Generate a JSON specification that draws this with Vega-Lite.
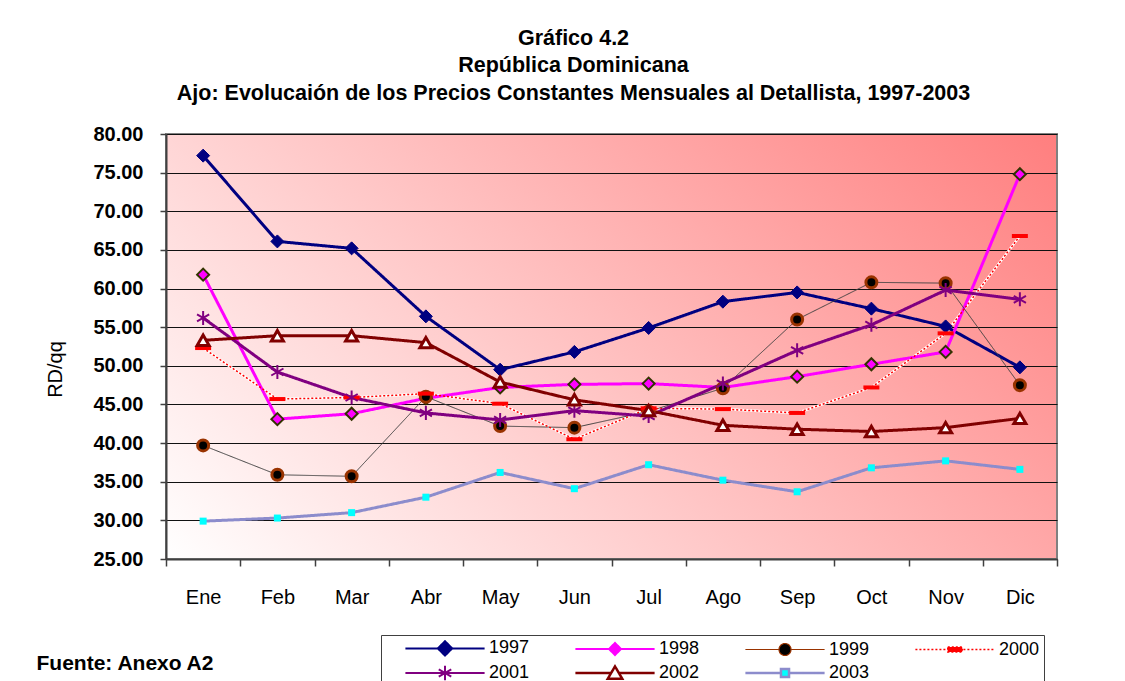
{
  "$schema": "https://vega.github.io/schema/vega-lite/v6.json",
  "autosize": "none",
  "width": 891,
  "height": 425,
  "padding": {"left": 166, "top": 134, "right": 68, "bottom": 122},
  "background": "#ffffff",
  "title": {
    "text": ["Gráfico 4.2", "República Dominicana", "Ajo: Evolucaión de los  Precios Constantes Mensuales al Detallista, 1997-2003"],
    "font": "Liberation Sans",
    "fontSize": 21.5,
    "fontWeight": "bold",
    "lineHeight": 27.5,
    "color": "#000000",
    "anchor": "middle",
    "frame": "group",
    "dx": -38,
    "offset": 20
  },
  "data": {
    "values": [
      {"mes": "Ene", "anio": "1997", "valor": 77.2},
      {"mes": "Feb", "anio": "1997", "valor": 66.1},
      {"mes": "Mar", "anio": "1997", "valor": 65.2},
      {"mes": "Abr", "anio": "1997", "valor": 56.4},
      {"mes": "May", "anio": "1997", "valor": 49.5},
      {"mes": "Jun", "anio": "1997", "valor": 51.8},
      {"mes": "Jul", "anio": "1997", "valor": 54.9},
      {"mes": "Ago", "anio": "1997", "valor": 58.3},
      {"mes": "Sep", "anio": "1997", "valor": 59.5},
      {"mes": "Oct", "anio": "1997", "valor": 57.4},
      {"mes": "Nov", "anio": "1997", "valor": 55.1},
      {"mes": "Dic", "anio": "1997", "valor": 49.8},
      {"mes": "Ene", "anio": "1998", "valor": 61.8},
      {"mes": "Feb", "anio": "1998", "valor": 43.1},
      {"mes": "Mar", "anio": "1998", "valor": 43.8},
      {"mes": "Abr", "anio": "1998", "valor": 45.8},
      {"mes": "May", "anio": "1998", "valor": 47.2},
      {"mes": "Jun", "anio": "1998", "valor": 47.6},
      {"mes": "Jul", "anio": "1998", "valor": 47.7},
      {"mes": "Ago", "anio": "1998", "valor": 47.2},
      {"mes": "Sep", "anio": "1998", "valor": 48.6},
      {"mes": "Oct", "anio": "1998", "valor": 50.2},
      {"mes": "Nov", "anio": "1998", "valor": 51.8},
      {"mes": "Dic", "anio": "1998", "valor": 74.8},
      {"mes": "Ene", "anio": "1999", "valor": 39.7},
      {"mes": "Feb", "anio": "1999", "valor": 35.9},
      {"mes": "Mar", "anio": "1999", "valor": 35.7},
      {"mes": "Abr", "anio": "1999", "valor": 46.0},
      {"mes": "May", "anio": "1999", "valor": 42.2},
      {"mes": "Jun", "anio": "1999", "valor": 42.0},
      {"mes": "Jul", "anio": "1999", "valor": 44.1},
      {"mes": "Ago", "anio": "1999", "valor": 47.1},
      {"mes": "Sep", "anio": "1999", "valor": 56.0},
      {"mes": "Oct", "anio": "1999", "valor": 60.8},
      {"mes": "Nov", "anio": "1999", "valor": 60.7},
      {"mes": "Dic", "anio": "1999", "valor": 47.5},
      {"mes": "Ene", "anio": "2000", "valor": 52.3},
      {"mes": "Feb", "anio": "2000", "valor": 45.7},
      {"mes": "Mar", "anio": "2000", "valor": 45.9},
      {"mes": "Abr", "anio": "2000", "valor": 46.4},
      {"mes": "May", "anio": "2000", "valor": 45.1},
      {"mes": "Jun", "anio": "2000", "valor": 40.5},
      {"mes": "Jul", "anio": "2000", "valor": 44.5},
      {"mes": "Ago", "anio": "2000", "valor": 44.4},
      {"mes": "Sep", "anio": "2000", "valor": 43.9},
      {"mes": "Oct", "anio": "2000", "valor": 47.2},
      {"mes": "Nov", "anio": "2000", "valor": 54.2},
      {"mes": "Dic", "anio": "2000", "valor": 66.8},
      {"mes": "Ene", "anio": "2001", "valor": 56.2},
      {"mes": "Feb", "anio": "2001", "valor": 49.2},
      {"mes": "Mar", "anio": "2001", "valor": 45.9},
      {"mes": "Abr", "anio": "2001", "valor": 43.9},
      {"mes": "May", "anio": "2001", "valor": 43.0},
      {"mes": "Jun", "anio": "2001", "valor": 44.2},
      {"mes": "Jul", "anio": "2001", "valor": 43.5},
      {"mes": "Ago", "anio": "2001", "valor": 47.7},
      {"mes": "Sep", "anio": "2001", "valor": 52.0},
      {"mes": "Oct", "anio": "2001", "valor": 55.3},
      {"mes": "Nov", "anio": "2001", "valor": 59.8},
      {"mes": "Dic", "anio": "2001", "valor": 58.6},
      {"mes": "Ene", "anio": "2002", "valor": 53.3},
      {"mes": "Feb", "anio": "2002", "valor": 53.9},
      {"mes": "Mar", "anio": "2002", "valor": 53.9},
      {"mes": "Abr", "anio": "2002", "valor": 53.0},
      {"mes": "May", "anio": "2002", "valor": 47.9},
      {"mes": "Jun", "anio": "2002", "valor": 45.6},
      {"mes": "Jul", "anio": "2002", "valor": 44.2},
      {"mes": "Ago", "anio": "2002", "valor": 42.3},
      {"mes": "Sep", "anio": "2002", "valor": 41.8},
      {"mes": "Oct", "anio": "2002", "valor": 41.5},
      {"mes": "Nov", "anio": "2002", "valor": 42.0},
      {"mes": "Dic", "anio": "2002", "valor": 43.2},
      {"mes": "Ene", "anio": "2003", "valor": 29.9},
      {"mes": "Feb", "anio": "2003", "valor": 30.3},
      {"mes": "Mar", "anio": "2003", "valor": 31.0},
      {"mes": "Abr", "anio": "2003", "valor": 33.0},
      {"mes": "May", "anio": "2003", "valor": 36.2},
      {"mes": "Jun", "anio": "2003", "valor": 34.1},
      {"mes": "Jul", "anio": "2003", "valor": 37.2},
      {"mes": "Ago", "anio": "2003", "valor": 35.2},
      {"mes": "Sep", "anio": "2003", "valor": 33.7},
      {"mes": "Oct", "anio": "2003", "valor": 36.8},
      {"mes": "Nov", "anio": "2003", "valor": 37.7},
      {"mes": "Dic", "anio": "2003", "valor": 36.6}
    ]
  },
  "encoding": {
    "x": {
      "field": "mes",
      "type": "nominal",
      "sort": ["Ene", "Feb", "Mar", "Abr", "May", "Jun", "Jul", "Ago", "Sep", "Oct", "Nov", "Dic"],
      "scale": {"type": "band", "paddingInner": 0, "paddingOuter": 0},
      "bandPosition": 0.5,
      "axis": {
        "title": "Fuente: Anexo A2",
        "titleFont": "Liberation Sans",
        "titleFontSize": 21,
        "titleFontWeight": "bold",
        "titleColor": "#000000",
        "titleX": -130,
        "titleY": 110,
        "titleAlign": "left",
        "titleAnchor": "start",
        "titleBaseline": "alphabetic",
        "labelAngle": 0,
        "labelFont": "Liberation Sans",
        "labelFontSize": 20,
        "labelColor": "#000000",
        "labelPadding": 21,
        "tickBand": "extent",
        "tickSize": 7,
        "tickColor": "#404040",
        "tickWidth": 1.5,
        "domainColor": "#404040",
        "domainWidth": 2,
        "grid": false
      }
    },
    "y": {
      "field": "valor",
      "type": "quantitative",
      "scale": {"domain": [25, 80], "nice": false, "zero": false},
      "axis": {
        "title": "RD/qq",
        "values": [25, 30, 35, 40, 45, 50, 55, 60, 65, 70, 75, 80],
        "format": ".2f",
        "labelFont": "Liberation Sans",
        "labelFontSize": 20,
        "labelFontWeight": "bold",
        "labelColor": "#000000",
        "labelPadding": 17,
        "tickSize": 6,
        "tickColor": "#404040",
        "tickWidth": 1.5,
        "domainColor": "#404040",
        "domainWidth": 2,
        "grid": true,
        "gridColor": "#111111",
        "gridWidth": 1,
        "titleFont": "Liberation Sans",
        "titleFontSize": 20,
        "titleFontWeight": "normal",
        "titleColor": "#000000",
        "titleX": -111,
        "titleY": 235,
        "titleAlign": "center",
        "titleBaseline": "middle"
      }
    }
  },
  "layer": [
    {
      "transform": [{"filter": "datum.anio == '2000'"}],
      "mark": {"type": "line", "color": "#ffffff", "strokeWidth": 2.5}
    },
    {
      "mark": {"type": "line"},
      "encoding": {
        "stroke": {
          "field": "anio", "type": "nominal", "legend": null,
          "scale": {"domain": ["1997", "1998", "1999", "2000", "2001", "2002", "2003"],
                    "range": ["#000080", "#ff00ff", "#404040", "#ff0000", "#800080", "#800000", "#8c8ccc"]}
        },
        "strokeWidth": {
          "field": "anio", "type": "nominal", "legend": null,
          "scale": {"type": "ordinal", "domain": ["1997", "1998", "1999", "2000", "2001", "2002", "2003"],
                    "range": [3, 3, 1, 1.5, 3, 3, 3]}
        },
        "strokeDash": {
          "field": "anio", "type": "nominal", "legend": null,
          "scale": {"domain": ["1997", "1998", "1999", "2000", "2001", "2002", "2003"],
                    "range": [[1, 0], [1, 0], [1, 0], [2, 2], [1, 0], [1, 0], [1, 0]]}
        }
      }
    },
    {
      "mark": {"type": "point", "filled": true, "opacity": 1},
      "encoding": {
        "shape": {
          "field": "anio", "type": "nominal", "legend": null,
          "scale": {"domain": ["1997", "1998", "1999", "2000", "2001", "2002", "2003"],
                    "range": ["diamond", "diamond", "circle", "M-1,-0.25H1V0.25H-1Z", "M0,-1V1M-0.87,-0.5L0.87,0.5M-0.87,0.5L0.87,-0.5", "triangle-up", "square"]}
        },
        "fill": {
          "field": "anio", "type": "nominal", "legend": null,
          "scale": {"domain": ["1997", "1998", "1999", "2000", "2001", "2002", "2003"],
                    "range": ["#000080", "#ff00ff", "#000000", "#ff0000", "#800080", "#ffffff", "#00ffff"]}
        },
        "stroke": {
          "field": "anio", "type": "nominal", "legend": null,
          "scale": {"domain": ["1997", "1998", "1999", "2000", "2001", "2002", "2003"],
                    "range": ["#000080", "#333300", "#993300", "#ff0000", "#800080", "#800000", "#00ffff"]}
        },
        "strokeWidth": {
          "field": "anio", "type": "nominal", "legend": null,
          "scale": {"type": "ordinal", "domain": ["1997", "1998", "1999", "2000", "2001", "2002", "2003"],
                    "range": [1, 2, 3, 0, 2, 3, 0]}
        },
        "size": {
          "field": "anio", "type": "nominal", "legend": null,
          "scale": {"type": "ordinal", "domain": ["1997", "1998", "1999", "2000", "2001", "2002", "2003"],
                    "range": [169, 144, 121, 256, 196, 144, 49]}
        }
      }
    },
    {
      "mark": {"type": "point", "filled": true, "opacity": 0, "size": 144},
      "encoding": {
        "shape": {
          "field": "anio", "type": "nominal", "legend": {"title": null},
          "scale": {"domain": ["1997", "1998", "1999", "2000", "2001", "2002", "2003"],
                    "range": [
                      "M-6.6,0H-1.2M1.2,0H6.6M0,-1.2L1.2,0L0,1.2L-1.2,0Z",
                      "M-6.6,0H-1M1,0H6.6M0,-1L1,0L0,1L-1,0Z",
                      "M-6.6,0H-1M1,0H6.6M-1,0A1,1,0,1,1,1,0A1,1,0,1,1,-1,0Z",
                      "M-6.6,0H6.6M-1.2,-0.4H1.2V0.4H-1.2Z",
                      "M-6.6,0H6.6M0,-1.2V1.2M-1.04,-0.6L1.04,0.6M-1.04,0.6L1.04,-0.6",
                      "M-6.6,0H-0.64M0.64,0H6.6M0,-1.1L1.2,0.95H-1.2Z",
                      "M-6.6,0H-0.67M0.67,0H6.6M-0.67,-0.67H0.67V0.67H-0.67Z"
                    ]}
        },
        "fill": {
          "field": "anio", "type": "nominal", "legend": {"title": null},
          "scale": {"domain": ["1997", "1998", "1999", "2000", "2001", "2002", "2003"],
                    "range": ["#000080", "#ff00ff", "#000000", "#ff0000", "#800080", "#ffffff", "#00ffff"]}
        },
        "stroke": {
          "field": "anio", "type": "nominal", "legend": {"title": null},
          "scale": {"domain": ["1997", "1998", "1999", "2000", "2001", "2002", "2003"],
                    "range": ["#000080", "#ff00ff", "#993300", "#ff0000", "#800080", "#800000", "#8c8ccc"]}
        },
        "strokeWidth": {
          "field": "anio", "type": "nominal", "legend": {"title": null},
          "scale": {"type": "ordinal", "domain": ["1997", "1998", "1999", "2000", "2001", "2002", "2003"],
                    "range": [2, 2, 1.2, 1.5, 2, 2.5, 2.5]}
        },
        "strokeDash": {
          "field": "anio", "type": "nominal", "legend": {"title": null},
          "scale": {"domain": ["1997", "1998", "1999", "2000", "2001", "2002", "2003"],
                    "range": [[1, 0], [1, 0], [1, 0], [2, 2], [1, 0], [1, 0], [1, 0]]}
        }
      }
    }
  ],
  "resolve": {
    "scale": {"shape": "independent", "fill": "independent", "stroke": "independent", "strokeWidth": "independent", "strokeDash": "independent", "size": "independent"}
  },
  "config": {
    "font": "Liberation Sans",
    "view": {
      "stroke": "#808080",
      "strokeWidth": 2,
      "fill": {
        "gradient": "linear", "x1": 0, "y1": 1, "x2": 1.2, "y2": 0.43,
        "stops": [{"offset": 0, "color": "#ffffff"}, {"offset": 1, "color": "#ff7f7f"}]
      }
    },
    "legend": {
      "orient": "none",
      "direction": "horizontal",
      "legendX": 215,
      "legendY": 501,
      "columns": 4,
      "padding": 4,
      "strokeColor": "#404040",
      "fillColor": "#ffffff",
      "labelFont": "Liberation Sans",
      "labelFontSize": 18,
      "labelColor": "#000000",
      "symbolSize": 144,
      "symbolOpacity": 1,
      "symbolOffset": 51,
      "labelOffset": 35,
      "columnPadding": 25,
      "rowPadding": 1
    }
  }
}
